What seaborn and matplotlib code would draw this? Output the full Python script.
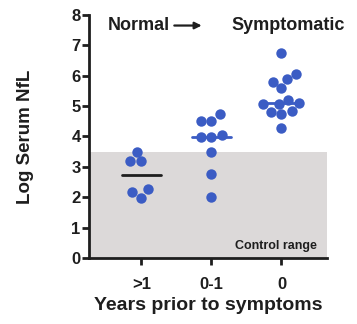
import numpy as np
import pandas as pd
import matplotlib
matplotlib.use("Agg")
import matplotlib.pyplot as plt
import seaborn as sns

# values
groups = [">1", "0-1", "0"]
nfl_gt1 = [3.50, 3.18, 3.18, 1.98, 2.26, 2.16]
nfl_0_1 = [4.52, 4.52, 4.74, 3.99, 3.97, 4.05, 3.50, 2.76, 2.00]
nfl_0 = [6.73, 6.05, 5.88, 5.78, 5.58, 5.07, 5.11, 5.20, 5.06, 4.85, 4.74, 4.81, 4.29]
control_upper = 3.5

df = pd.DataFrame({
    "group": [groups[0]] * len(nfl_gt1) + [groups[1]] * len(nfl_0_1) + [groups[2]] * len(nfl_0),
    "nfl": nfl_gt1 + nfl_0_1 + nfl_0,
})

sns.set_style("ticks")
plt.rcParams["font.family"] = ["Liberation Sans", "DejaVu Sans"]
plt.rcParams["font.weight"] = "bold"

ink = "#1e1e1e"
blue = "#3b5cc4"

fig = plt.figure(figsize=(3.57, 3.24), dpi=100)
ax = fig.add_axes([0.249, 0.204, 0.667, 0.75])

# control range band
ax.axhspan(0, control_upper, color="#dcd9d9", zorder=0, lw=0)

sns.swarmplot(data=df, x="group", y="nfl", order=groups, color=blue,
              size=7.5, ax=ax, zorder=3)

# median lines
med_colors = [ink, blue, blue]
for i, g in enumerate(groups):
    m = np.median(df.loc[df.group == g, "nfl"])
    ax.plot([i - 0.28, i + 0.28], [m, m], color=med_colors[i], lw=2, zorder=2)

ax.set_xlim(-0.75, 2.65)
ax.set_ylim(0, 8)
ax.set_yticks(range(0, 9))

for s in ["top", "right"]:
    ax.spines[s].set_visible(False)
for s in ["left", "bottom"]:
    ax.spines[s].set_linewidth(2)
    ax.spines[s].set_color(ink)
ax.tick_params(direction="out", width=2, length=5, color=ink, labelcolor=ink,
               labelsize=12, left=True, bottom=True)
ax.tick_params(axis="y", pad=1)
ax.tick_params(axis="x", pad=9)
for lbl in ax.get_xticklabels() + ax.get_yticklabels():
    lbl.set_fontweight("bold")

ax.set_ylabel("Log Serum NfL", fontsize=13.5, fontweight="bold", labelpad=27, color=ink)
ax.set_xlabel("Years prior to symptoms", fontsize=14, fontweight="bold", labelpad=3, color=ink)

ax.text(2.5, 0.18, "Control range", fontsize=9, fontweight="bold", ha="right",
        va="bottom", color=ink)
ax.text(-0.48, 7.65, "Normal", fontsize=13, fontweight="bold", va="center", color=ink)
ax.annotate("", xy=(0.9, 7.65), xytext=(0.43, 7.65),
            arrowprops=dict(arrowstyle="-|>", color=ink, lw=1.6, mutation_scale=10))
ax.text(1.29, 7.65, "Symptomatic", fontsize=13, fontweight="bold", va="center",
        color=ink, clip_on=False)

fig.savefig("out.png", dpi=100)
